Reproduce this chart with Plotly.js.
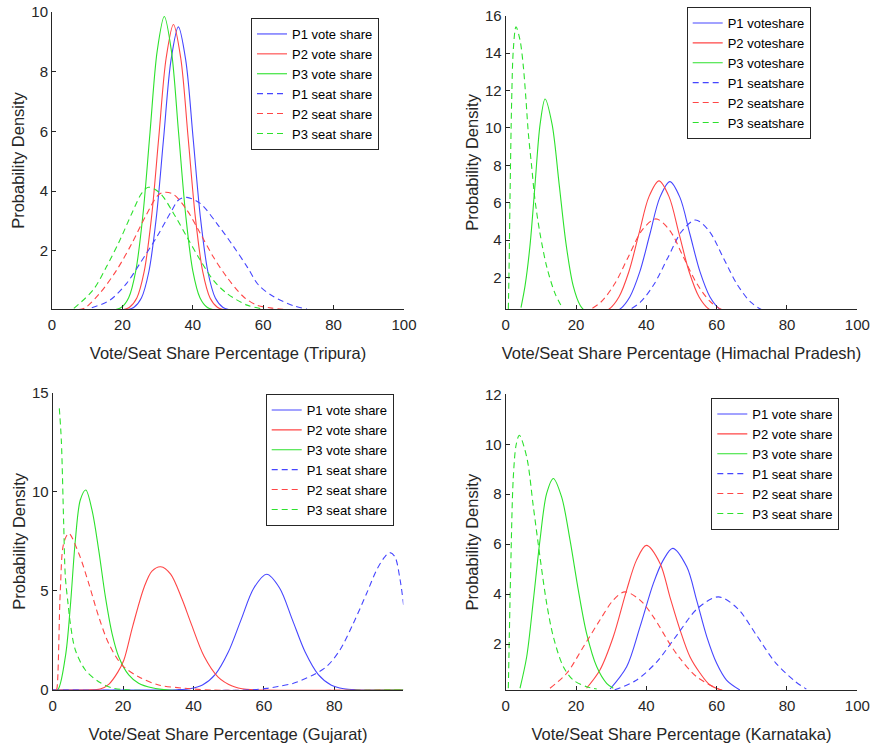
<!DOCTYPE html>
<html><head><meta charset="utf-8">
<script src="https://cdn.plot.ly/plotly-3.0.1.min.js"></script>
<style>html,body{margin:0;padding:0;background:#fff}#chart{width:873px;height:747px}</style>
</head><body><div id="chart"></div>
<script>
// ---------- Tripura ----------
const tri_p1_vote_x = [21.2, 23.3, 25.4, 27.5, 29.6, 31.7, 33.8, 35.9, 38.0, 40.1, 42.2, 44.3, 46.4, 48.5, 50.6];
const tri_p1_vote_y = [0.02, 0.11, 0.42, 1.29, 3.08, 5.76, 8.38, 9.5, 8.38, 5.76, 3.08, 1.29, 0.42, 0.11, 0.02];
const tri_p2_vote_x = [19.94, 22.02, 24.1, 26.18, 28.26, 30.34, 32.42, 34.5, 36.58, 38.66, 40.74, 42.82, 44.9, 46.98, 49.06];
const tri_p2_vote_y = [0.02, 0.11, 0.42, 1.30, 3.11, 5.81, 8.45, 9.58, 8.45, 5.81, 3.11, 1.30, 0.42, 0.11, 0.02];
const tri_p3_vote_x = [17.73, 19.75, 21.78, 23.8, 25.83, 27.85, 29.88, 31.9, 33.93, 35.95, 37.98, 40.0, 42.03, 44.05, 46.08];
const tri_p3_vote_y = [0.02, 0.11, 0.43, 1.33, 3.2, 5.97, 8.69, 9.85, 8.69, 5.97, 3.2, 1.33, 0.43, 0.11, 0.02];
const tri_p1_seat_x = [11.3, 16.5, 21.2, 25.0, 29.8, 33.6, 36.1, 38.3, 42.1, 46.8, 51.6, 55.4, 58.7, 62.9, 68.6, 72.4];
const tri_p1_seat_y = [0.09, 0.35, 0.91, 1.58, 2.47, 3.26, 3.72, 3.79, 3.59, 2.92, 2.14, 1.47, 0.85, 0.47, 0.16, 0.05];
const tri_p2_seat_x = [7.5, 9.4, 13.6, 18.4, 22.7, 26.5, 30.2, 32.1, 34.5, 38.3, 42.1, 45.8, 49.6, 54.4, 58.2, 62.5, 66.7];
const tri_p2_seat_y = [0.03, 0.09, 0.58, 1.36, 2.25, 3.14, 3.87, 3.96, 3.89, 3.37, 2.59, 1.80, 1.13, 0.46, 0.18, 0.08, 0.03];
const tri_p3_seat_x = [6.2, 11.7, 15.5, 19.3, 22.7, 25.5, 27.4, 30.7, 34.5, 38.3, 42.1, 45.8, 49.6, 55.4, 60.0];
const tri_p3_seat_y = [0.07, 0.69, 1.47, 2.36, 3.26, 3.93, 4.13, 3.93, 3.26, 2.47, 1.69, 1.02, 0.58, 0.18, 0.05];

// ---------- Himachal Pradesh ----------
const hp_p1_vote_x = [26.75, 29.6, 32.45, 35.3, 38.15, 41.0, 43.85, 46.7, 49.55, 52.4, 55.25, 58.1, 60.95, 63.8, 66.65];
const hp_p1_vote_y = [0.02, 0.08, 0.31, 0.97, 2.32, 4.32, 6.29, 7.13, 6.29, 4.32, 2.32, 0.97, 0.31, 0.08, 0.02];
const hp_p2_vote_x = [23.65, 26.5, 29.35, 32.2, 35.05, 37.9, 40.75, 43.6, 46.45, 49.3, 52.15, 55.0, 57.85, 60.7, 63.55];
const hp_p2_vote_y = [0.02, 0.08, 0.31, 0.97, 2.33, 4.35, 6.33, 7.17, 6.33, 4.35, 2.33, 0.97, 0.31, 0.08, 0.02];
const hp_p3_vote_x = [4.35, 5.5, 6.93, 8.35, 9.78, 11.2, 13.2, 15.2, 17.2, 19.2, 21.2, 22.8];
const hp_p3_vote_y = [0.4, 1.56, 3.75, 7.0, 10.19, 11.55, 10.19, 7.0, 3.75, 1.56, 0.51, 0.17];
const hp_p1_seat_x = [30.45, 34.4, 38.3, 42.2, 46.15, 50.1, 54.0, 57.9, 61.85, 65.8, 69.7, 73.6, 77.55];
const hp_p1_seat_y = [0.06, 0.22, 0.69, 1.65, 3.08, 4.48, 5.08, 4.48, 3.08, 1.65, 0.69, 0.22, 0.06];
const hp_p2_seat_x = [19.3, 23.2, 27.1, 31.0, 34.9, 38.8, 42.7, 46.6, 50.5, 54.4, 58.3, 62.2, 66.1];
const hp_p2_seat_y = [0.06, 0.23, 0.70, 1.67, 3.12, 4.54, 5.14, 4.54, 3.12, 1.67, 0.70, 0.23, 0.06];
const hp_p3_seat_x = [0.75, 1.0, 1.22, 1.7, 2.17, 2.93, 4.07, 5.02, 5.77, 6.44, 7.39, 8.33, 9.75, 11.66, 14.02, 15.93];
const hp_p3_seat_y = [0.33, 3.0, 6.15, 11.5, 14.2, 15.41, 14.7, 13.28, 11.5, 9.72, 7.93, 6.15, 4.37, 2.59, 1.16, 0.45];

// ---------- Gujarat ----------
const guj_p1_vote_x = [0, 31.6, 35.25, 38.9, 42.55, 46.2, 49.85, 53.5, 57.15, 60.8, 64.45, 68.1, 71.75, 75.4, 79.05, 82.7, 86.35, 90, 99.6];
const guj_p1_vote_y = [0, 0, 0.013, 0.065, 0.256, 0.79, 1.90, 3.54, 5.15, 5.84, 5.15, 3.54, 1.90, 0.79, 0.256, 0.065, 0.013, 0, 0];
const guj_p2_vote_x = [0, 10, 13.5, 16, 18.5, 20.2, 22.7, 26, 28.2, 30.7, 33.5, 36.7, 39.3, 43, 47, 51, 55, 60, 99.6];
const guj_p2_vote_y = [0, 0, 0.05, 0.3, 0.9, 1.5, 3.2, 5.2, 6.0, 6.22, 5.85, 4.6, 3.36, 1.7, 0.65, 0.2, 0.03, 0, 0];
const guj_p3_vote_x = [0, 1.4, 3.6, 5.0, 6.44, 7.86, 9.4, 11.17, 13.07, 14.96, 16.85, 18.75, 21.6, 24.4, 28.2, 33, 99.6];
const guj_p3_vote_y = [0, 0, 1.68, 4.2, 7.57, 9.6, 10.09, 9.08, 7.06, 4.71, 2.86, 1.68, 0.76, 0.34, 0.11, 0, 0];
const guj_p1_seat_x = [0, 55, 60.8, 64, 68.4, 74, 77.8, 81.6, 85.4, 89.2, 92, 94.4, 95.8, 97.2, 98.7, 99.8];
const guj_p1_seat_y = [0, 0, 0.08, 0.18, 0.34, 0.76, 1.18, 2.02, 3.36, 4.88, 6.05, 6.73, 6.93, 6.73, 5.55, 4.12];
const guj_p2_seat_x = [1.0, 1.22, 2.17, 3.12, 4.55, 7.39, 10.23, 13.07, 15.9, 19.7, 24.4, 30.1, 36.7, 45, 99.6];
const guj_p2_seat_y = [0, 0.1, 5.05, 7.4, 7.9, 6.9, 5.38, 3.7, 2.35, 1.26, 0.67, 0.25, 0.1, 0, 0];
const guj_p3_seat_x = [1.88, 2.45, 3.12, 3.59, 4.35, 5.01, 6.43, 9.27, 13.06, 16.85, 22, 99.6];
const guj_p3_seat_y = [14.21, 12.6, 8.41, 5.72, 4.37, 3.36, 2.02, 1.01, 0.42, 0.11, 0, 0];

// ---------- Karnataka ----------
const kar_p1_vote_x = [29.7, 34.4, 38.2, 42.0, 44.8, 47.5, 51.5, 54.3, 57.2, 60.0, 62.8, 66.6];
const kar_p1_vote_y = [0.2, 1.09, 2.69, 4.43, 5.36, 5.83, 5.09, 3.76, 2.29, 1.23, 0.56, 0.16];
const kar_p2_vote_x = [23.0, 26.8, 30.6, 34.4, 37.2, 40.0, 43.9, 46.7, 49.6, 52.4, 55.3, 58.1, 61.9];
const kar_p2_vote_y = [0.23, 0.96, 2.29, 4.16, 5.36, 5.95, 5.23, 3.89, 2.56, 1.49, 0.83, 0.36, 0.13];
const kar_p3_vote_x = [4.07, 5.97, 7.87, 9.75, 11.65, 13.55, 15.9, 18.3, 20.65, 23.0, 25.9, 28.7, 30.6];
const kar_p3_vote_y = [0.23, 1.49, 3.76, 6.16, 8.03, 8.63, 7.89, 6.16, 4.16, 2.43, 1.09, 0.43, 0.23];
const kar_p1_seat_x = [31.0, 36.9, 42.8, 48.7, 54.6, 60.5, 65.9, 71.3, 76.7, 82.1, 85.5];
const kar_p1_seat_y = [0.17, 0.53, 1.26, 2.36, 3.43, 3.89, 3.43, 2.36, 1.26, 0.53, 0.2];
const kar_p2_seat_x = [12.6, 17.35, 22.1, 26.8, 30.6, 33.9, 38.2, 42.0, 46.7, 49.6, 54.3, 60.0, 63.0];
const kar_p2_seat_y = [0.23, 0.83, 1.89, 2.96, 3.76, 4.09, 3.76, 3.09, 2.0, 1.42, 0.69, 0.23, 0.1];
const kar_p3_seat_x = [0.75, 1.42, 2.17, 3.0, 3.88, 5.97, 7.87, 9.75, 11.65, 13.55, 16.4, 19.2, 23.0, 25.9];
const kar_p3_seat_y = [0.23, 4.96, 8.7, 10.0, 10.36, 9.49, 7.49, 5.49, 3.63, 2.29, 1.09, 0.56, 0.29, 0.2];

// ---------- labels ----------
const names_std = ['P1 vote share', 'P2 vote share', 'P3 vote share', 'P1 seat share', 'P2 seat share', 'P3 seat share'];
const names_hp = ['P1 voteshare', 'P2 voteshare', 'P3 voteshare', 'P1 seatshare', 'P2 seatshare', 'P3 seatshare'];
const xtitles = ['Vote/Seat Share Percentage (Tripura)', 'Vote/Seat Share Percentage (Himachal Pradesh)',
                 'Vote/Seat Share Percentage (Gujarat)', 'Vote/Seat Share Percentage (Karnataka)'];
const ytitle = 'Probability Density';
const xticks_full = [0, 20, 40, 60, 80, 100];
const xticks_guj = [0, 20, 40, 60, 80];
const yticks_tri = [2, 4, 6, 8, 10];
const yticks_hp = [2, 4, 6, 8, 10, 12, 14, 16];
const yticks_guj = [0, 5, 10, 15];
const yticks_kar = [2, 4, 6, 8, 10, 12];

// ---------- build ----------
const BLUE = 'rgb(70,70,255)', RED = 'rgb(255,70,70)', GREEN = 'rgb(45,225,45)';
const COLORS = [BLUE, RED, GREEN, BLUE, RED, GREEN];
const DASHES = ['solid', 'solid', 'solid', '6px,4px', '6px,4px', '6px,4px'];
const FONT = 'Liberation Sans, Arial, Helvetica, sans-serif';

const panels = [
  {xs: [tri_p1_vote_x, tri_p2_vote_x, tri_p3_vote_x, tri_p1_seat_x, tri_p2_seat_x, tri_p3_seat_x],
   ys: [tri_p1_vote_y, tri_p2_vote_y, tri_p3_vote_y, tri_p1_seat_y, tri_p2_seat_y, tri_p3_seat_y], names: names_std},
  {xs: [hp_p1_vote_x, hp_p2_vote_x, hp_p3_vote_x, hp_p1_seat_x, hp_p2_seat_x, hp_p3_seat_x],
   ys: [hp_p1_vote_y, hp_p2_vote_y, hp_p3_vote_y, hp_p1_seat_y, hp_p2_seat_y, hp_p3_seat_y], names: names_hp},
  {xs: [guj_p1_vote_x, guj_p2_vote_x, guj_p3_vote_x, guj_p1_seat_x, guj_p2_seat_x, guj_p3_seat_x],
   ys: [guj_p1_vote_y, guj_p2_vote_y, guj_p3_vote_y, guj_p1_seat_y, guj_p2_seat_y, guj_p3_seat_y], names: names_std},
  {xs: [kar_p1_vote_x, kar_p2_vote_x, kar_p3_vote_x, kar_p1_seat_x, kar_p2_seat_x, kar_p3_seat_x],
   ys: [kar_p1_vote_y, kar_p2_vote_y, kar_p3_vote_y, kar_p1_seat_y, kar_p2_seat_y, kar_p3_seat_y], names: names_std}
];

const traces = [];
panels.forEach((p, i) => {
  const suf = i === 0 ? '' : String(i + 1);
  for (let k = 0; k < 6; k++) {
    traces.push({
      type: 'scatter', mode: 'lines',
      x: p.xs[k], y: p.ys[k], name: p.names[k],
      xaxis: 'x' + suf, yaxis: 'y' + suf,
      legend: 'legend' + suf,
      line: {color: COLORS[k], width: 1.1, dash: DASHES[k], shape: 'spline', smoothing: 0.9},
      hoverinfo: 'skip'
    });
  }
});

function xax(anchor, domain, range, ticks, title, layer) {
  return {
    anchor: anchor, domain: domain, range: range, showline: true, linecolor: '#262626', linewidth: 1, mirror: false,
    ticks: 'inside', ticklen: 4, tickwidth: 1, tickcolor: '#262626', showgrid: false, zeroline: false,
    tickmode: 'array', tickvals: ticks, ticktext: ticks.map(String), ticklabelstandoff: 2,
    tickfont: {family: FONT, size: 15, color: '#262626'},
    title: {text: title, font: {family: FONT, size: 16.5, color: '#262626'}, standoff: 15},
    layer: layer || 'above traces', fixedrange: true, automargin: false
  };
}
function yax(anchor, domain, range, ticks, layer) {
  return {
    anchor: anchor, domain: domain, range: range, showline: true, linecolor: '#262626', linewidth: 1, mirror: false,
    ticks: 'inside', ticklen: 4, tickwidth: 1, tickcolor: '#262626', showgrid: false, zeroline: false,
    tickmode: 'array', tickvals: ticks, ticktext: ticks.map(String),
    tickfont: {family: FONT, size: 15, color: '#262626'},
    title: {text: ytitle, font: {family: FONT, size: 16.5, color: '#262626'}, standoff: 2},
    layer: layer || 'above traces', fixedrange: true, automargin: false
  };
}
function leg(x, y) {
  return {x: x, y: y, xanchor: 'left', yanchor: 'top', xref: 'paper', yref: 'paper',
    bgcolor: '#ffffff', bordercolor: '#262626', borderwidth: 1,
    font: {family: FONT, size: 13, color: '#000000'}, tracegroupgap: 0};
}

const W = 873, H = 747;
const layout = {
  width: W, height: H, margin: {l: 0, r: 0, t: 0, b: 0},
  paper_bgcolor: '#ffffff', plot_bgcolor: '#ffffff', showlegend: true,
  xaxis:  xax('y',  [52/W, 404/W], [0, 100], xticks_full, xtitles[0]),
  yaxis:  yax('x',  [1-309/H, 1-12/H], [0.05, 10], yticks_tri),
  xaxis2: xax('y2', [505.7/W, 857.3/W], [0, 100], xticks_full, xtitles[1]),
  yaxis2: yax('x2', [1-309/H, 1-15.7/H], [0.325, 16], yticks_hp),
  xaxis3: xax('y3', [52.7/W, 403.3/W], [0, 99.6], xticks_guj, xtitles[2], 'below traces'),
  yaxis3: yax('x3', [1-690/H, 1-392.7/H], [0, 15], yticks_guj, 'below traces'),
  xaxis4: xax('y4', [505.7/W, 857.3/W], [0, 100], xticks_full, xtitles[3]),
  yaxis4: yax('x4', [1-690/H, 1-394.3/H], [0.16, 12], yticks_kar),
  legend:  leg(251/W, 1-18/H),
  legend2: leg(686.7/W, 1-7/H),
  legend3: leg(265.7/W, 1-394/H),
  legend4: leg(711.3/W, 1-398/H)
};

Plotly.newPlot('chart', traces, layout, {displayModeBar: false, staticPlot: true});
</script></body></html>
